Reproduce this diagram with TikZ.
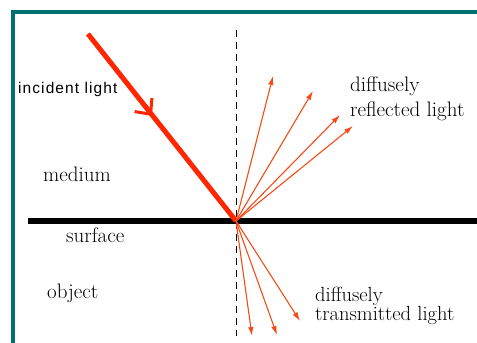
\documentclass[tikz,border=0pt]{standalone}
\usepackage{fontspec}
\newfontfamily\labelsans[LetterSpace=7]{Liberation Sans}
\usepackage{xcolor}
\usetikzlibrary{arrows.meta}

\definecolor{frameteal}{RGB}{0,112,112}
\definecolor{rayred}{RGB}{255,38,0}
\definecolor{scatterred}{RGB}{245,75,25}

\tikzset{
  incidentray/.style={rayred, line width=5pt},
  scatterray/.style={scatterred, line width=1.1pt,
    -{Latex[length=9pt,width=5.5pt]}},
  labeltext/.style={font=\rmfamily\fontsize{21}{25}\selectfont, anchor=base west, inner sep=0pt},
}

\begin{document}
\begin{tikzpicture}[x=1pt,y=-1pt]
\useasboundingbox (0,0) rectangle (477,343);

% ======================================================================
% FRAME (top and left edge only)
% ======================================================================
\draw[frameteal, line width=4pt] (477,12) -- (13,12) -- (13,343);

% ======================================================================
% SURFACE + NORMAL
% ======================================================================
\coordinate (hit) at (236,221);
\coordinate (surfL) at (28,221);
\coordinate (surfR) at (477,221);
\coordinate (normT) at (236,30);
\coordinate (normB) at (236,336);
\draw[black, line width=6.5pt] (surfL) -- (surfR);
\draw[black, line width=1pt, dash pattern=on 7pt off 5pt] (normT) -- (normB);

% incident beam, arrow half way
\coordinate (src) at (88,34);
\coordinate (mid) at (152,116);
\draw[incidentray] (src) -- (hit);
\draw[incidentray, line width=3pt, -{Straight Barb[length=12pt,width=22pt]}] (src) -- (mid);

% diffusely reflected rays
\foreach \n/\x/\y in {r1/273/76, r2/313/91, r3/340/115, r4/353/126}{
  \coordinate (\n) at (\x,\y);
  \draw[scatterray] (hit) -- (\n);
}

% diffusely transmitted rays
\foreach \n/\x/\y in {t1/252/336, t2/277/335, t3/300/321}{
  \coordinate (\n) at (\x,\y);
  \draw[scatterray] (hit) -- (\n);
}

% ======================================================================
% LABELS
% ======================================================================
\node[anchor=base west, inner sep=0pt, font=\labelsans\fontsize{15.5}{18}\selectfont]
  (inclab) at (18,93) {incident light};
\node[labeltext] (medlab) at (43,181) {medium};
\node[labeltext] (surflab) at (66,242) {surface};
\node[labeltext] (objlab) at (47,298) {object};
\node[labeltext, align=left, anchor=north west] (refllab) at (350,77)
  {diffusely\\reflected light};
\node[labeltext, align=left, anchor=north west,
      font=\rmfamily\fontsize{20.5}{18}\selectfont] (translab) at (315,287)
  {diffusely\\transmitted light};

\end{tikzpicture}
\end{document}
